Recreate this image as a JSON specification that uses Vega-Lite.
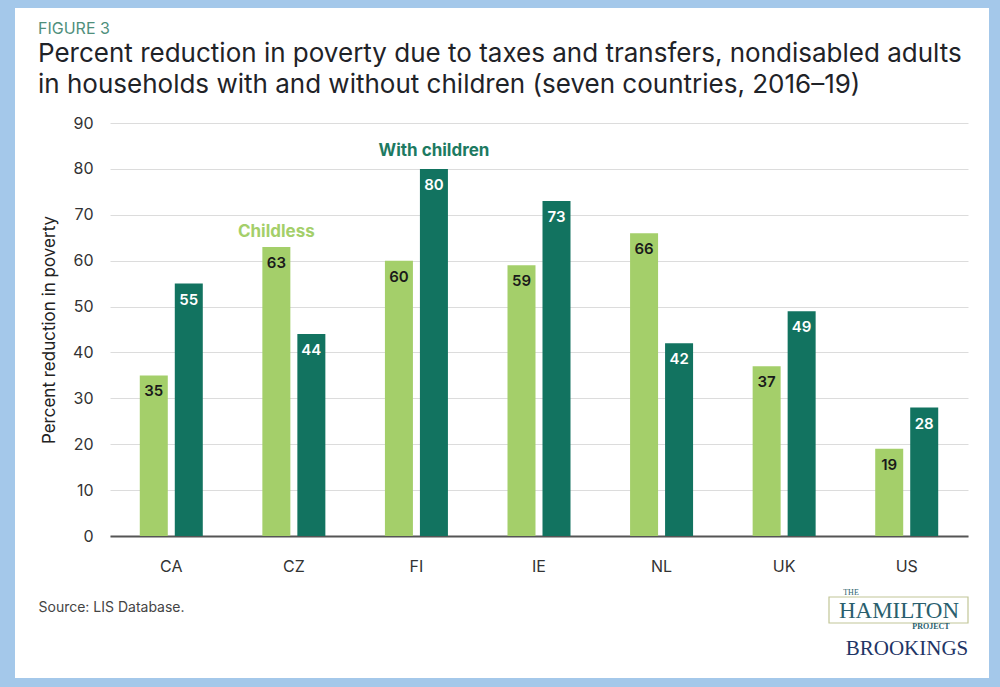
{
  "$schema": "https://vega.github.io/schema/vega-lite/v6.json",
  "autosize": {"type": "none"},
  "width": 858,
  "height": 413,
  "padding": {"left": 110, "top": 123, "right": 32, "bottom": 151},
  "background": "white",
  "title": {
    "text": "FIGURE 3",
    "subtitle": ["Percent reduction in poverty due to taxes and transfers, nondisabled adults", "in households with and without children (seven countries, 2016–19)"],
    "anchor": "start",
    "frame": "group",
    "dx": -72,
    "offset": -120,
    "font": "Inter",
    "fontSize": 16,
    "fontWeight": "normal",
    "color": "#4f8f7c",
    "subtitleFont": "Inter",
    "subtitleFontSize": 26,
    "subtitleColor": "#1f2328",
    "subtitleLineHeight": 31,
    "subtitlePadding": 4
  },
  "datasets": {
    "bars": [
      {"country": "CA", "group": "Childless", "value": 35},
      {"country": "CA", "group": "With children", "value": 55},
      {"country": "CZ", "group": "Childless", "value": 63},
      {"country": "CZ", "group": "With children", "value": 44},
      {"country": "FI", "group": "Childless", "value": 60},
      {"country": "FI", "group": "With children", "value": 80},
      {"country": "IE", "group": "Childless", "value": 59},
      {"country": "IE", "group": "With children", "value": 73},
      {"country": "NL", "group": "Childless", "value": 66},
      {"country": "NL", "group": "With children", "value": 42},
      {"country": "UK", "group": "Childless", "value": 37},
      {"country": "UK", "group": "With children", "value": 49},
      {"country": "US", "group": "Childless", "value": 19},
      {"country": "US", "group": "With children", "value": 28}
    ],
    "notes": [
      {"country": "CZ", "group": "Childless", "pos": 66.2, "label": "Childless"},
      {"country": "FI", "group": "With children", "pos": 83.9, "label": "With children"}
    ],
    "one": [{}]
  },
  "config": {
    "view": {"stroke": null},
    "axis": {"labelFont": "Inter", "titleFont": "Inter"}
  },
  "layer": [
    {
      "data": {"name": "bars"},
      "mark": {"type": "bar"},
      "encoding": {
        "x": {
          "field": "country", "type": "nominal",
          "scale": {"paddingInner": 0.486, "paddingOuter": 0.243},
          "axis": {
            "title": "Source: LIS Database.",
            "titleAnchor": "start", "titleAlign": "left", "titleBaseline": "middle",
            "titleX": -72, "titleY": 71,
            "titleFontSize": 14, "titleFontWeight": "normal", "titleColor": "#444444",
            "labelAngle": 0, "labelFontSize": 16, "labelColor": "#333333", "labelPadding": 22,
            "ticks": false, "domainColor": "#555555", "domainWidth": 2, "grid": false
          }
        },
        "xOffset": {"field": "group", "type": "nominal", "scale": {"domain": ["Childless", "With children"], "paddingInner": 0.2, "paddingOuter": 0}},
        "y": {
          "field": "value", "type": "quantitative",
          "scale": {"domain": [0, 90], "nice": false},
          "axis": {
            "values": [0, 10, 20, 30, 40, 50, 60, 70, 80, 90],
            "title": "Percent reduction in poverty",
            "titleFontSize": 17, "titleFontWeight": "normal", "titleColor": "#222222", "titlePadding": 14,
            "labelFontSize": 16, "labelColor": "#333333", "labelPadding": 17,
            "ticks": false, "domain": false, "gridColor": "#dcdcdc", "gridWidth": 1
          }
        },
        "color": {"field": "group", "type": "nominal", "scale": {"domain": ["Childless", "With children"], "range": ["#a4cf6a", "#127360"]}, "legend": null}
      }
    },
    {
      "data": {"name": "bars"},
      "mark": {"type": "text", "baseline": "top", "dy": 9, "font": "Inter", "fontSize": 15, "fontWeight": 600},
      "encoding": {
        "x": {"field": "country", "type": "nominal"},
        "xOffset": {"field": "group", "type": "nominal"},
        "y": {"field": "value", "type": "quantitative"},
        "text": {"field": "value", "type": "quantitative"},
        "color": {"condition": {"test": "datum.group === 'Childless'", "value": "#1a1a1a"}, "value": "#ffffff"}
      }
    },
    {
      "data": {"name": "notes"},
      "mark": {"type": "text", "baseline": "middle", "font": "Inter", "fontSize": 17, "fontWeight": "bold"},
      "encoding": {
        "x": {"field": "country", "type": "nominal"},
        "xOffset": {"field": "group", "type": "nominal"},
        "y": {"field": "pos", "type": "quantitative"},
        "text": {"field": "label", "type": "nominal"},
        "color": {"condition": {"test": "datum.group === 'Childless'", "value": "#a4cf6a"}, "value": "#1d7a62"}
      }
    },
    {
      "data": {"name": "one"},
      "mark": {"type": "rect", "fill": null, "stroke": "#a4c8ea", "strokeWidth": 30},
      "encoding": {"x": {"value": -110}, "x2": {"value": 894}, "y": {"value": -130}, "y2": {"value": 570}}
    },
    {
      "data": {"name": "one"},
      "mark": {"type": "rect", "fill": null, "stroke": "#c2c697", "strokeWidth": 1.2},
      "encoding": {"x": {"value": 719}, "x2": {"value": 858}, "y": {"value": 474}, "y2": {"value": 500}}
    },
    {
      "data": {"name": "one"},
      "mark": {"type": "text", "text": "THE", "font": "Liberation Serif", "fontSize": 8, "color": "#2a5f6e", "align": "center", "baseline": "middle"},
      "encoding": {"x": {"value": 741}, "y": {"value": 470}}
    },
    {
      "data": {"name": "one"},
      "mark": {"type": "text", "text": "HAMILTON", "font": "Liberation Serif", "fontSize": 23, "color": "#2a5f6e", "align": "center", "baseline": "alphabetic"},
      "encoding": {"x": {"value": 789}, "y": {"value": 495}}
    },
    {
      "data": {"name": "one"},
      "mark": {"type": "text", "text": "PROJECT", "font": "Liberation Serif", "fontSize": 8, "fontWeight": "bold", "color": "#2a5f6e", "align": "center", "baseline": "middle"},
      "encoding": {"x": {"value": 821}, "y": {"value": 504}}
    },
    {
      "data": {"name": "one"},
      "mark": {"type": "text", "text": "BROOKINGS", "font": "Liberation Serif", "fontSize": 21, "color": "#1f3566", "align": "center", "baseline": "alphabetic"},
      "encoding": {"x": {"value": 797}, "y": {"value": 532}}
    }
  ]
}
